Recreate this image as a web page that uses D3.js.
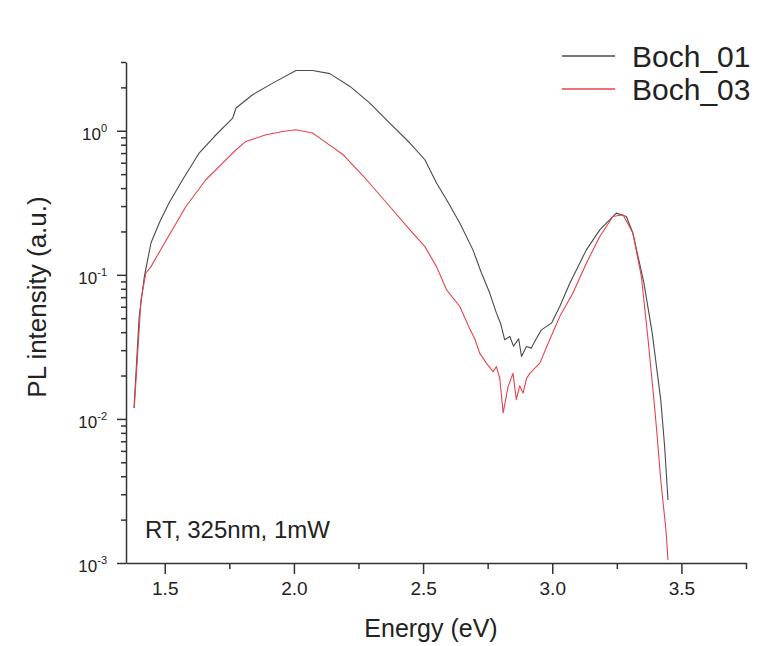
<html lang="en">
    <head>
        <meta charset="utf-8">
        <title>PL spectra</title>
        <script src="https://d3js.org/d3.v7.min.js"></script>
        <style>
            body { margin: 0; background: #fff; }
            text { font-family: "Liberation Sans", Arial, sans-serif; fill: #222; }
        </style>
    </head>
    <body>
    <script>

    // Boch_01 (black)
    var boch01Energy = [1.381, 1.401, 1.421, 1.447, 1.479, 1.517, 1.569, 1.634, 1.692, 1.763, 1.776, 1.840, 1.918, 2.008, 2.072,
        2.139, 2.217, 2.294, 2.371, 2.449, 2.507, 2.552, 2.591, 2.642, 2.693, 2.726, 2.758, 2.784, 2.800, 2.816, 2.836, 2.850,
        2.870, 2.881, 2.900, 2.919, 2.938, 2.958, 2.997, 3.029, 3.068, 3.132, 3.184, 3.248, 3.287, 3.312, 3.355, 3.387,
        3.420, 3.435, 3.448];
    var boch01Intensity = [0.0119, 0.0513, 0.0973, 0.167, 0.230, 0.316, 0.457, 0.703, 0.912, 1.225, 1.438, 1.778, 2.14, 2.62, 2.62,
        2.49, 2.03, 1.556, 1.13, 0.822, 0.629, 0.434, 0.332, 0.229, 0.149, 0.103, 0.0747, 0.0542, 0.046, 0.0354, 0.0373, 0.032,
        0.036, 0.0271, 0.0318, 0.0310, 0.036, 0.0415, 0.0462, 0.0603, 0.0875, 0.149, 0.205, 0.268, 0.254, 0.195, 0.0875, 0.0394,
        0.01355, 0.00643, 0.00274];

    // Boch_03 (red)
    var boch03Energy = [1.382, 1.408, 1.427, 1.447, 1.473, 1.518, 1.582, 1.659, 1.724, 1.776, 1.814, 1.892, 1.956, 2.008, 2.072,
        2.100, 2.191, 2.281, 2.371, 2.449, 2.507, 2.552, 2.591, 2.642, 2.681, 2.700, 2.719, 2.745, 2.771, 2.784, 2.797, 2.810,
        2.829, 2.848, 2.861, 2.874, 2.887, 2.900, 2.913, 2.952, 2.990, 3.029, 3.080, 3.132, 3.184, 3.235, 3.274, 3.312, 3.345,
        3.371, 3.396, 3.404, 3.420, 3.440, 3.448];
    var boch03Intensity = [0.0119, 0.067, 0.103, 0.114, 0.138, 0.190, 0.298, 0.457, 0.597, 0.738, 0.843, 0.937, 0.989, 1.016, 0.965,
        0.889, 0.681, 0.457, 0.298, 0.205, 0.157, 0.114, 0.0787, 0.0603, 0.042, 0.036, 0.0286, 0.0244, 0.0213, 0.0231, 0.019, 0.0110,
        0.0167, 0.0207, 0.0136, 0.017, 0.0151, 0.019, 0.0207, 0.0244, 0.0354, 0.0513, 0.0747, 0.1205, 0.1845, 0.254, 0.261, 0.195, 0.0973,
        0.0354, 0.0122, 0.0084, 0.00377, 0.0017, 0.00105];

    var seriesNames = ["Boch_01", "Boch_03"];
    var seriesColors = ["#4a4a4a", "#e8424a"];

    var xMajorTicks = [1.5, 2.0, 2.5, 3.0, 3.5];
    var xMinorTicks = [1.75, 2.25, 2.75, 3.25, 3.75];
    var yMajorExp = [-3, -2, -1, 0];
    var note = "RT, 325nm, 1mW";

    var width = 776;
    var height = 646;
    var margin = {left: 126, top: 62, right: 30, bottom: 83};

    var svg = d3.select("body")
                .append("svg")
                .attr("width", width)
                .attr("height", height);

    var x = d3.scaleLinear()
        .domain([1.35, 3.75])
        .range([margin.left, width - margin.right]);

    var y = d3.scaleLog()
        .domain([1e-3, 3])
        .range([height - margin.bottom, margin.top]);

    var yMinor = [];
    yMajorExp.forEach(function(e) {
        for (var k = 2; k <= 9; k++) {
            var v = k * Math.pow(10, e);
            if (v <= 3) yMinor.push(v);
        }
    });

    var series = [
        boch01Energy.map(function(e, i) { return [e, boch01Intensity[i]]; }),
        boch03Energy.map(function(e, i) { return [e, boch03Intensity[i]]; })
    ];

    var line = d3.line()
        .x(function(d) { return x(d[0]); })
        .y(function(d) { return y(d[1]); });

    // curves
    svg.append("g")
        .selectAll("path")
        .data(series)
        .enter().append("path")
          .attr("fill", "none")
          .attr("stroke", function(d, i) { return seriesColors[i]; })
          .attr("stroke-width", 1.1)
          .attr("stroke-linejoin", "round")
          .attr("d", line);

    // x axis
    var gx = svg.append("g")
        .attr("transform", "translate(0," + (height - margin.bottom) + ")");
    gx.call(d3.axisBottom(x).tickValues(xMinorTicks).tickSize(6).tickFormat(""))
      .select(".domain").remove();
    var gx2 = svg.append("g")
        .attr("transform", "translate(0," + (height - margin.bottom) + ")")
        .call(d3.axisBottom(x).tickValues(xMajorTicks).tickSize(11).tickSizeOuter(0).tickPadding(8)
            .tickFormat(d3.format(".1f")));
    gx2.selectAll("text")
        .style("font-size", "19px")
        .style("font-family", "'Liberation Sans', Arial, sans-serif")
        .attr("fill", "#222");

    // y axis
    svg.append("g")
        .attr("transform", "translate(" + margin.left + ",0)")
        .call(d3.axisLeft(y).tickValues(yMinor).tickSize(5).tickFormat(""))
      .select(".domain").remove();
    svg.append("g")
        .attr("transform", "translate(" + margin.left + ",0)")
        .call(d3.axisLeft(y).tickValues(yMajorExp.map(function(e) { return Math.pow(10, e); }))
            .tickSize(9).tickSizeOuter(0).tickFormat(""));

    svg.selectAll(".domain, .tick line")
        .attr("stroke", "#333")
        .attr("stroke-width", 1.5);

    var yLabels = svg.append("g")
        .selectAll("text")
        .data(yMajorExp)
        .enter().append("text")
          .attr("x", 107)
          .attr("y", function(d) { return y(Math.pow(10, d)) + 9; })
          .attr("text-anchor", "end")
          .style("font-size", "17px");
    yLabels.append("tspan").text("10");
    yLabels.append("tspan")
        .attr("dy", -8)
        .style("font-size", "11px")
        .text(function(d) { return d; });

    // titles
    svg.append("text")
        .attr("x", (margin.left + width - margin.right) / 2 - 5)
        .attr("y", 637)
        .attr("text-anchor", "middle")
        .style("font-size", "25px")
        .text("Energy (eV)");

    svg.append("text")
        .attr("transform", "translate(46," + 297 + ") rotate(-90)")
        .attr("text-anchor", "middle")
        .style("font-size", "26px")
        .text("PL intensity (a.u.)");

    svg.append("text")
        .attr("x", 145)
        .attr("y", 538)
        .style("font-size", "24px")
        .text(note);

    // legend
    var legend = svg.append("g")
        .selectAll("g")
        .data(seriesNames)
        .enter().append("g")
          .attr("transform", function(d, i) { return "translate(562," + (56 + i * 33) + ")"; });
    legend.append("line")
        .attr("x1", 0)
        .attr("x2", 53)
        .attr("stroke", function(d, i) { return seriesColors[i]; })
        .attr("stroke-width", 1.3);
    legend.append("text")
        .attr("x", 70)
        .attr("y", 11)
        .style("font-size", "30px")
        .text(function(d) { return d; });

    </script>
    </body>
</html>
